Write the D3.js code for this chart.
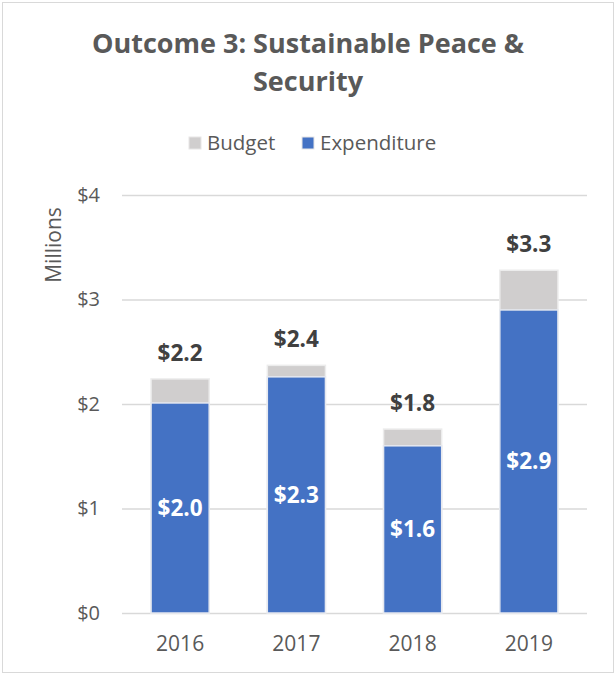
<!DOCTYPE html>
<html>
<head>
<meta charset="utf-8">
<script src="https://cdn.jsdelivr.net/npm/d3@7"></script>
<style>
  body { margin: 0; background: #fff; }
  text { font-family: "Open Sans", "Noto Sans", sans-serif; }
</style>
</head>
<body>
<div id="chart"></div>
<script>
// data (millions)
var years = ["2016", "2017", "2018", "2019"];
var budget = [2.24, 2.37, 1.76, 3.28];
var expenditure = [2.01, 2.26, 1.6, 2.9];
var yTicks = [0, 1, 2, 3, 4];

var width = 616, height = 675;
var margin = { top: 195, right: 29, bottom: 62, left: 122 };

var svg = d3.select("#chart").append("svg")
  .attr("width", width)
  .attr("height", height);

// outer frame
svg.append("rect")
  .attr("x", 2.5).attr("y", 2.5)
  .attr("width", width - 5).attr("height", height - 5)
  .attr("fill", "#fff")
  .attr("stroke", "#d9d9d9");

var x = d3.scaleBand()
  .domain(years)
  .range([margin.left, width - margin.right])
  .paddingInner(0.5)
  .paddingOuter(0.25);

var y = d3.scaleLinear()
  .domain([0, 4])
  .range([height - margin.bottom, margin.top]);

// title
svg.append("text")
  .attr("x", 308).attr("y", 53)
  .attr("text-anchor", "middle")
  .attr("font-size", 27).attr("font-weight", "bold")
  .attr("fill", "#595959")
  .text("Outcome 3: Sustainable Peace &");
svg.append("text")
  .attr("x", 308).attr("y", 91)
  .attr("text-anchor", "middle")
  .attr("font-size", 27).attr("font-weight", "bold")
  .attr("fill", "#595959")
  .text("Security");

// legend
var legend = [{ name: "Budget", color: "#d0cece", x: 189 }, { name: "Expenditure", color: "#4472c4", x: 302 }];
var lg = svg.selectAll(".lg").data(legend).enter().append("g")
  .attr("transform", function(d) { return "translate(" + d.x + ",143)"; });
lg.append("rect")
  .attr("x", 0).attr("y", -6).attr("width", 12).attr("height", 12)
  .attr("fill", function(d) { return d.color; })
  .attr("stroke", "#e7e6e6");
lg.append("text")
  .attr("x", 18).attr("y", 7)
  .attr("font-size", 20.5).attr("fill", "#595959")
  .text(function(d) { return d.name; });

// gridlines
var yAxis = d3.axisLeft(y)
  .tickValues(yTicks)
  .tickSize(-(width - margin.right - margin.left))
  .tickPadding(22)
  .tickFormat(function(d) { return "$" + d; });

var ga = svg.append("g")
  .attr("transform", "translate(" + margin.left + ",0)")
  .call(yAxis);
ga.select(".domain").remove();
ga.selectAll(".tick line").attr("stroke", "#d9d9d9").attr("stroke-width", 1.5);
ga.selectAll(".tick text")
  .attr("font-size", 20).attr("fill", "#595959")
  .style("font-family", "'Open Sans', sans-serif");

// y title
svg.append("text")
  .attr("transform", "translate(61,245) rotate(-90)")
  .attr("text-anchor", "middle")
  .attr("font-size", 21).attr("fill", "#595959")
  .text("Millions");

// budget bars (behind)
svg.selectAll(".budget").data(budget).enter().append("rect")
  .attr("x", function(d, i) { return x(years[i]); })
  .attr("y", function(d) { return y(d); })
  .attr("width", x.bandwidth())
  .attr("height", function(d) { return y(0) - y(d); })
  .attr("fill", "#d0cece")
  .attr("stroke", "#ececec").attr("stroke-width", 1.5);

// expenditure bars
svg.selectAll(".exp").data(expenditure).enter().append("rect")
  .attr("x", function(d, i) { return x(years[i]); })
  .attr("y", function(d) { return y(d); })
  .attr("width", x.bandwidth())
  .attr("height", function(d) { return y(0) - y(d); })
  .attr("fill", "#4472c4")
  .attr("stroke", "#e6e9f0").attr("stroke-width", 1.5);

// budget labels
svg.selectAll(".blab").data(budget).enter().append("text")
  .attr("x", function(d, i) { return x(years[i]) + x.bandwidth() / 2; })
  .attr("y", function(d) { return y(d) - 18; })
  .attr("text-anchor", "middle")
  .attr("font-size", 22.5).attr("font-weight", "bold")
  .attr("fill", "#404040")
  .text(function(d) { return "$" + d.toFixed(1); });

// expenditure labels
svg.selectAll(".elab").data(expenditure).enter().append("text")
  .attr("x", function(d, i) { return x(years[i]) + x.bandwidth() / 2; })
  .attr("y", function(d) { return (y(d) + y(0)) / 2 + 8; })
  .attr("text-anchor", "middle")
  .attr("font-size", 22.5).attr("font-weight", "bold")
  .attr("fill", "#fff")
  .text(function(d) { return "$" + d.toFixed(1); });

// x labels
svg.selectAll(".xlab").data(years).enter().append("text")
  .attr("x", function(d) { return x(d) + x.bandwidth() / 2; })
  .attr("y", 651)
  .attr("text-anchor", "middle")
  .attr("font-size", 21).attr("fill", "#595959")
  .text(function(d) { return d; });
</script>
</body>
</html>
